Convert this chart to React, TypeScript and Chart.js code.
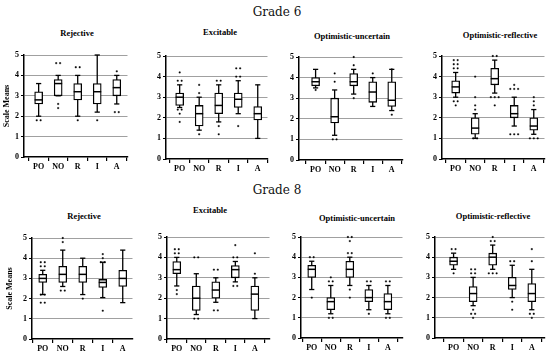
import React, { useEffect, useRef } from 'react';
import { Chart, registerables } from 'chart.js';
Chart.register(...registerables);

const categories = ['PO', 'NO', 'R', 'I', 'A'];
const yTickValues = [0, 1, 2, 3, 4, 5];
const gradeLabels = ['Grade 6', 'Grade 8'];
const panelTitles = ['Rejective', 'Excitable', 'Optimistic-uncertain', 'Optimistic-reflective'];
const yAxisTitle = 'Scale Means';

// Each row: [lower whisker, Q1, median, Q3, upper whisker] for PO, NO, R, I, A
const g6RejectiveBox = [[2.0, 2.6, 2.8, 3.2, 3.6], [3.0, 3.0, 3.6, 3.8, 4.0], [2.0, 2.8, 3.2, 3.6, 4.0], [2.2, 2.6, 3.2, 3.6, 5.0], [2.6, 3.0, 3.4, 3.8, 4.0]];
const g6RejectiveOut = [[1.8, 1.8], [4.6, 4.6, 2.6, 2.4], [4.4, 4.4, 1.8], [1.8], [4.2, 2.2, 2.2]];

const g6ExcitableBox = [[2.5, 2.6, 3.0, 3.2, 3.6], [1.4, 1.6, 2.2, 2.6, 3.0], [1.8, 2.2, 2.6, 3.2, 3.6], [2.2, 2.5, 2.9, 3.2, 3.8], [1.0, 1.9, 2.2, 2.55, 3.6]];
const g6ExcitableOut = [[4.2, 3.8, 3.8, 2.4, 2.4, 2.2, 1.8], [3.6, 3.2, 1.2], [3.8, 3.8, 1.6, 1.2], [4.4, 4.4, 4.0, 4.0, 1.6], []];

const g6UncertainBox = [[3.5, 3.6, 3.8, 4.0, 4.4], [1.2, 1.8, 2.1, 3.0, 3.4], [3.2, 3.6, 3.8, 4.2, 4.4], [2.6, 2.8, 3.3, 3.8, 4.0], [2.4, 2.6, 2.9, 3.8, 4.4]];
const g6UncertainOut = [[3.4], [4.2, 3.8, 1.0, 1.0], [5.0, 4.6, 3.0], [4.2], [4.4, 2.2]];

const g6ReflectiveBox = [[3.0, 3.2, 3.5, 3.8, 4.2], [1.0, 1.2, 1.5, 2.0, 2.2], [3.2, 3.6, 3.9, 4.4, 4.8], [1.6, 2.0, 2.2, 2.6, 3.0], [1.2, 1.4, 1.6, 2.0, 2.4]];
const g6ReflectiveOut = [[4.8, 4.8, 4.6, 4.6, 4.4, 4.4, 2.8, 2.8, 2.6], [4.0, 3.0, 2.6, 2.4, 1.0, 1.0], [5.0, 5.0, 3.0, 3.0, 3.0, 2.6], [3.6, 3.4, 3.4, 3.4, 1.2, 1.2, 1.2], [3.0, 2.8, 2.6, 1.0, 1.0, 1.0]];

const g8RejectiveBox = [[2.2, 2.8, 3.0, 3.2, 3.4], [2.6, 2.8, 3.2, 3.6, 4.4], [2.2, 2.8, 3.2, 3.6, 4.0], [2.05, 2.55, 2.8, 2.95, 3.8], [1.8, 2.6, 3.0, 3.4, 4.4]];
const g8RejectiveOut = [[3.8, 3.8, 3.6, 3.6, 2.2, 2.2, 1.8, 1.8], [5.0, 4.8, 2.4, 2.4], [2.0], [4.2, 4.0, 3.8, 3.8, 1.4], []];

const g8ExcitableBox = [[2.6, 3.2, 3.4, 3.8, 4.0], [1.2, 1.4, 2.0, 2.6, 3.2], [1.8, 2.0, 2.4, 2.8, 3.0], [2.8, 3.0, 3.4, 3.6, 3.8], [1.0, 1.4, 2.2, 2.6, 3.0]];
const g8ExcitableOut = [[4.4, 4.4, 4.2, 4.2, 2.4, 2.2], [4.0, 4.0, 1.0, 1.0], [3.4, 3.4, 1.4, 1.4], [4.6, 4.0, 4.0, 2.6, 2.6], [4.2, 3.2]];

const g8UncertainBox = [[2.4, 3.0, 3.4, 3.6, 3.8], [1.2, 1.4, 1.8, 2.0, 2.6], [2.6, 3.0, 3.4, 3.8, 4.0], [1.4, 1.8, 2.0, 2.4, 2.6], [1.2, 1.4, 1.8, 2.2, 2.6]];
const g8UncertainOut = [[4.0, 4.0, 2.0], [3.0, 2.8, 2.8, 1.0, 1.0], [5.0, 5.0, 4.8, 4.2, 4.2, 2.4, 2.0], [2.8, 2.8, 1.2], [2.8, 2.8, 1.0, 1.0]];

const g8ReflectiveBox = [[3.4, 3.6, 3.8, 4.0, 4.2], [1.6, 1.8, 2.2, 2.55, 3.0], [3.4, 3.6, 4.0, 4.2, 4.6], [2.0, 2.4, 2.6, 3.0, 3.6], [1.4, 1.8, 2.2, 2.7, 3.4]];
const g8ReflectiveOut = [[4.4, 4.4, 3.2], [3.4, 3.4, 3.2, 3.2, 1.4, 1.2, 1.2, 1.0], [5.0, 4.8, 4.8, 3.2, 3.2, 3.2], [3.8, 3.8, 1.8, 1.4], [4.4, 3.8, 1.2, 1.2, 1.0]];

type Layout = {
  axisX: number; rightX: number; poX: number; aX: number; top: number; bottom: number;
  yW: number; titleX: number; titleY: number; axisTitlePad?: number;
};

const FONT = "'Liberation Serif', 'Times New Roman', serif";

function buildDatasets(box: number[][], out: number[][]) {
  const whiskers: any[] = [];
  box.forEach((b, i) => {
    whiskers.push({ x: i, y: b[0] }, { x: i, y: b[4] }, { x: i, y: null });
  });
  const caps = box.flatMap((b, i) => [{ x: i, y: b[0] }, { x: i, y: b[4] }]);
  const boxes = box.map((b, i) => ({ x: i, y: [b[1], b[3]] }));
  const medians = box.map((b, i) => ({ x: i, y: b[2] }));
  const outliers: any[] = [];
  out.forEach((vals, i) => {
    const groups = new Map<number, number>();
    vals.forEach((v) => groups.set(v, (groups.get(v) || 0) + 1));
    groups.forEach((n, v) => {
      for (let k = 0; k < n; k++) {
        outliers.push({ x: i + (k - (n - 1) / 2) * 0.2, y: v });
      }
    });
  });
  return [
    { type: 'scatter', data: outliers, pointStyle: 'rect', pointRadius: 0.9, backgroundColor: '#000', borderColor: '#000', borderWidth: 0.5, order: 0, clip: false },
    { type: 'scatter', data: medians, pointStyle: 'line', pointRadius: 4, borderColor: '#000', borderWidth: 1.5, order: 1, clip: false },
    { type: 'bar', data: boxes, backgroundColor: '#fff', borderColor: '#000', borderWidth: 1.3, borderSkipped: false, barThickness: 8, order: 2 },
    { type: 'scatter', data: caps, pointStyle: 'line', pointRadius: 2.6, borderColor: '#000', borderWidth: 1.3, order: 3, clip: false },
    { type: 'scatter', data: whiskers, showLine: true, spanGaps: false, pointRadius: 0, borderColor: '#000', borderWidth: 1.3, order: 4, clip: false },
  ];
}

function Panel({ box, out, layout, title }: { box: number[][]; out: number[][]; layout: Layout; title: string }) {
  const ref = useRef<HTMLCanvasElement>(null);
  const padTop = 8, xH = 20, padRight = 3;
  const left = layout.axisX - layout.yW;
  const top = layout.top - padTop;
  const w = layout.rightX + padRight - left;
  const h = padTop + (layout.bottom - layout.top) + xH;
  const spacing = (layout.aX - layout.poX) / 4;
  const xMin = -(layout.poX - layout.axisX) / spacing;
  const xMax = (layout.rightX - layout.poX) / spacing;

  useEffect(() => {
    const hasTitle = layout.axisTitlePad !== undefined;
    const chart = new Chart(ref.current!, {
      type: 'scatter',
      data: { datasets: buildDatasets(box, out) as any },
      options: {
        animation: false,
        responsive: false,
        maintainAspectRatio: false,
        layout: { padding: { top: padTop, right: padRight, left: 0, bottom: 0 } },
        plugins: { legend: { display: false }, tooltip: { enabled: false }, title: { display: false } },
        events: [],
        scales: {
          x: {
            type: 'linear',
            min: xMin,
            max: xMax,
            offset: false,
            afterBuildTicks: (axis: any) => { axis.ticks = categories.map((_, i) => ({ value: i })); },
            afterFit: (axis: any) => { axis.height = xH; },
            ticks: {
              autoSkip: false,
              maxRotation: 0,
              padding: 1,
              color: '#000',
              font: { family: FONT, size: 8, weight: 'bold' },
              callback: (v: any) => categories[Math.round(v)] ?? '',
            },
            grid: { display: true, drawOnChartArea: false, drawTicks: true, tickLength: 4, tickColor: '#000', color: '#000', lineWidth: 1.2 },
            border: { display: true, color: '#000', width: 1.5 },
          },
          y: {
            type: 'linear',
            min: 0,
            max: 5,
            afterBuildTicks: (axis: any) => { axis.ticks = yTickValues.map((v) => ({ value: v })); },
            afterFit: (axis: any) => { axis.width = layout.yW; },
            ticks: {
              padding: 2,
              color: '#000',
              font: { family: FONT, size: 8, weight: 'bold' },
            },
            grid: {
              color: (ctx: any) => (ctx.tick && ctx.tick.value === 0 ? 'rgba(0,0,0,0)' : '#a0a0a0'),
              tickColor: '#000',
              tickLength: 3,
              lineWidth: 1,
            },
            border: { display: true, color: '#000', width: 1.5 },
            title: {
              display: hasTitle,
              text: yAxisTitle,
              color: '#000',
              font: { family: FONT, size: 8, weight: 'bold' },
              padding: { top: layout.axisTitlePad ?? 0, bottom: 0 },
            },
          },
        },
      } as any,
    });
    return () => chart.destroy();
  }, []);

  return (
    <>
      <canvas ref={ref} width={w} height={h} style={{ position: 'absolute', left, top, width: w, height: h }} />
      <div
        style={{
          position: 'absolute', left: layout.titleX, top: layout.titleY, transform: 'translate(-50%, -50%)',
          whiteSpace: 'nowrap', fontFamily: FONT, fontWeight: 'bold', fontSize: 8.5, color: '#000', lineHeight: 1,
        }}
      >
        {title}
      </div>
    </>
  );
}

const g6Layouts: Layout[] = [
  { axisX: 24, rightX: 130, poX: 39, aX: 119, top: 55, bottom: 157, yW: 24, titleX: 77, titleY: 33, axisTitlePad: 2.2 },
  { axisX: 166, rightX: 270, poX: 180, aX: 260, top: 56, bottom: 159, yW: 22, titleX: 220, titleY: 32 },
  { axisX: 299, rightX: 405, poX: 316, aX: 394, top: 57, bottom: 160, yW: 22, titleX: 352, titleY: 36 },
  { axisX: 442, rightX: 547, poX: 456, aX: 536, top: 56, bottom: 159, yW: 22, titleX: 500, titleY: 35 },
];
const g8Layouts: Layout[] = [
  { axisX: 32, rightX: 135, poX: 43, aX: 125, top: 238, bottom: 339, yW: 32, titleX: 84, titleY: 216, axisTitlePad: 5.2 },
  { axisX: 167, rightX: 272, poX: 177, aX: 257, top: 237, bottom: 339, yW: 22, titleX: 210, titleY: 210 },
  { axisX: 301, rightX: 405, poX: 312, aX: 390, top: 237, bottom: 338, yW: 22, titleX: 357, titleY: 218 },
  { axisX: 435, rightX: 547, poX: 454, aX: 534, top: 237, bottom: 338, yW: 22, titleX: 493, titleY: 216 },
];

const g6Boxes = [g6RejectiveBox, g6ExcitableBox, g6UncertainBox, g6ReflectiveBox];
const g6Outs = [g6RejectiveOut, g6ExcitableOut, g6UncertainOut, g6ReflectiveOut];
const g8Boxes = [g8RejectiveBox, g8ExcitableBox, g8UncertainBox, g8ReflectiveBox];
const g8Outs = [g8RejectiveOut, g8ExcitableOut, g8UncertainOut, g8ReflectiveOut];

export default function App() {
  const gradeStyle = (top: number): React.CSSProperties => ({
    position: 'absolute', left: 277, top, transform: 'translate(-50%, -50%)', whiteSpace: 'nowrap',
    fontFamily: "'DejaVu Serif', serif", fontSize: 12, color: '#111', lineHeight: 1,
  });
  return (
    <div style={{ position: 'absolute', left: 0, top: 0, width: 550, height: 356, background: '#fff', overflow: 'hidden' }}>
      <div style={gradeStyle(12)}>{gradeLabels[0]}</div>
      <div style={gradeStyle(190)}>{gradeLabels[1]}</div>
      {g6Layouts.map((l, i) => (
        <Panel key={'g6' + i} box={g6Boxes[i]} out={g6Outs[i]} layout={l} title={panelTitles[i]} />
      ))}
      {g8Layouts.map((l, i) => (
        <Panel key={'g8' + i} box={g8Boxes[i]} out={g8Outs[i]} layout={l} title={panelTitles[i]} />
      ))}
    </div>
  );
}
